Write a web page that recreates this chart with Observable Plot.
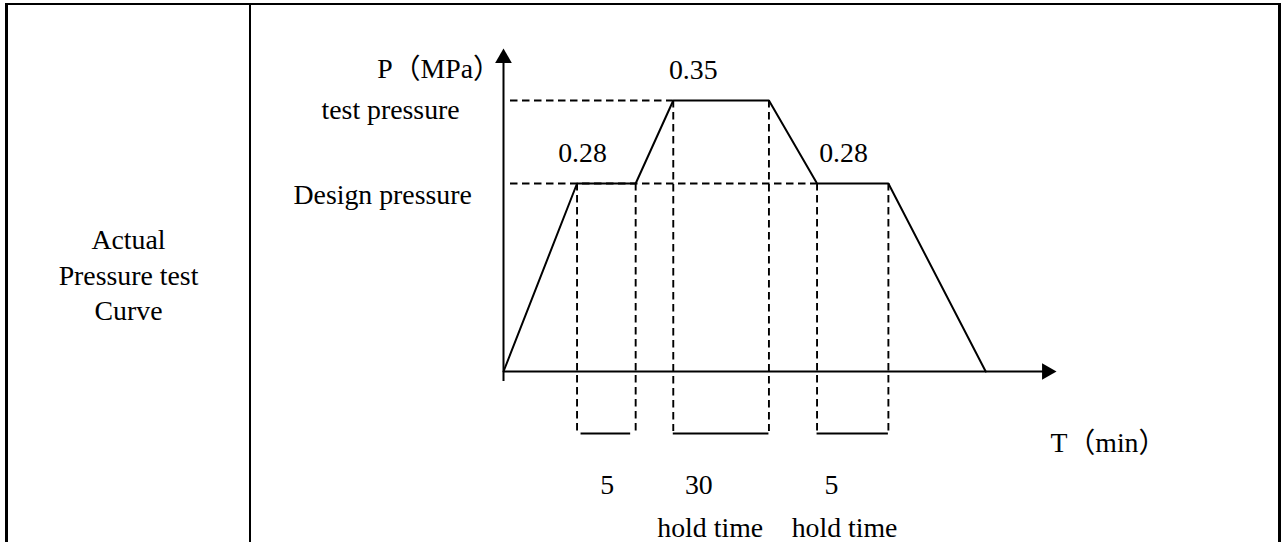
<!DOCTYPE html>
<html>
<head>
<meta charset="utf-8">
<script src="https://cdn.jsdelivr.net/npm/d3@7"></script>
<script src="https://cdn.jsdelivr.net/npm/@observablehq/plot@0.6"></script>
<style>
  html, body { margin: 0; padding: 0; background: #fff; }
  #page { position: relative; width: 1282px; height: 542px; overflow: hidden;
          font-family: "Liberation Serif", "Times New Roman", "Noto Sans CJK SC", serif; color: #000; }
  #chart { position: absolute; left: 0; top: 0; }
  #chart svg { background: transparent !important; overflow: visible; }
  .b { position: absolute; background: #000; }
  #rowTitle { position: absolute; left: 8px; width: 241px; top: 222px; text-align: center;
              font-size: 27.8px; line-height: 35.5px; }
</style>
</head>
<body>
<div id="page">
  <div id="chart"></div>
  <div class="b" style="left:5px;top:3.2px;width:1276px;height:1.6px"></div>
  <div class="b" style="left:5px;top:3px;width:3px;height:539px"></div>
  <div class="b" style="left:249px;top:3px;width:1.6px;height:539px"></div>
  <div class="b" style="left:1277.5px;top:3px;width:3.5px;height:539px"></div>
  <div id="rowTitle"></div>
</div>
<script>
// ---- chart content (schematic time units, pressure in MPa) ----
const rowTitle = ["Actual", "Pressure test", "Curve"];
const axisNameP = "P（MPa）";
const axisNameT = "T（min）";
const levelNames = ["test pressure", "Design pressure"];
const testP = 0.35;
const designP = 0.28;
const curveT = [0, 13.3, 23.9, 30.7, 48.0, 56.7, 69.6, 87.2];
const curveP = [0, 0.28, 0.28, 0.35, 0.35, 0.28, 0.28, 0];
const holdStart = [13.3, 30.7, 56.7];
const holdEnd = [23.9, 48.0, 69.6];
const holdLevel = [0.28, 0.35, 0.28];
const holdMinutes = ["5", "30", "5"];
const holdNote = ["", "hold time", "hold time"];
const levelLabel = ["0.28", "0.35", "0.28"];
const tMax = 100;
// schematic (not to scale) drawing height of each pressure level
const levelValue = [0, designP, testP];
const levelDrawn = [0, 188, 271];

document.getElementById("rowTitle").innerHTML = rowTitle.map(s => `<div>${s}</div>`).join("");

const serif = '"Liberation Serif","Times New Roman","Noto Sans CJK SC",serif';
const dash = "7.5,4.5";
const schematic = d3.scaleLinear().domain(levelValue).range(levelDrawn);

function label(text, t, p, dx, dy, anchor = "middle") {
  return Plot.text([text], {
    x: () => t, y: () => p, text: d => d, dx, dy,
    textAnchor: anchor, lineAnchor: "bottom",
    fontSize: 27.8, fontFamily: serif, fill: "black"
  });
}

const curve = curveT.map((t, i) => ({t, p: curveP[i]}));
const bounds = [];
holdStart.forEach((s, i) => {
  bounds.push({t: s, p: holdLevel[i]});
  bounds.push({t: holdEnd[i], p: holdLevel[i]});
});
const holds = holdStart.map((s, i) => ({s, e: holdEnd[i], m: (s + holdEnd[i]) / 2}));
const guides = [{p: testP, t: curveT[3]}, {p: designP, t: curveT[5]}];

const chart = Plot.plot({
  width: 1282,
  height: 542,
  style: {background: "transparent", overflow: "visible"},
  x: {domain: [0, tMax], range: [503, 1056], axis: null},
  y: {transform: p => schematic(p), domain: [0, levelDrawn[2]], range: [371, 100], axis: null},
  marks: [
    // dashed level guides
    Plot.ruleY(guides, {y: "p", x1: 0, x2: "t", insetLeft: 7, stroke: "black", strokeWidth: 1.9, strokeDasharray: dash}),
    // dashed hold boundaries
    Plot.ruleX(bounds, {x: "t", y1: "p", y2: 0, insetBottom: -60, stroke: "black", strokeWidth: 1.9, strokeDasharray: dash}),
    // hold brackets
    Plot.ruleY(holds.slice(0, 1), {y: () => 0, x1: "s", x2: "e", dy: 62, insetLeft: 4, insetRight: 5, stroke: "black", strokeWidth: 2}),
    Plot.ruleY(holds.slice(1), {y: () => 0, x1: "s", x2: "e", dy: 62, stroke: "black", strokeWidth: 2}),
    // axes
    Plot.ruleX([0], {x: d => d, y1: testP, y2: 0, insetTop: -40, insetBottom: -10, stroke: "black", strokeWidth: 2}),
    Plot.ruleY([0], {y: d => d, x1: 0, x2: tMax, insetRight: 10, stroke: "black", strokeWidth: 2}),
    Plot.dot([{t: 0, p: testP}], {x: "t", y: "p", dy: -42.3, symbol: "triangle", r: 6.2, fill: "black", stroke: "none"}),
    Plot.dot([{t: tMax, p: 0}], {x: "t", y: "p", dx: -9.6, rotate: 90, symbol: "triangle", r: 6.2, fill: "black", stroke: "none"}),
    // pressure curve
    Plot.line(curve, {x: "t", y: "p", stroke: "black", strokeWidth: 2, strokeLinejoin: "miter"}),
    // texts
    label(axisNameP, 0, testP, -126.3, -23, "start"),
    label(levelNames[0], 0, testP, -182, 18, "start"),
    label(levelNames[1], 0, designP, -210, 20, "start"),
    label(levelLabel[0], curveT[1], curveP[1], 5.5, -22),
    label(levelLabel[1], curveT[3], curveP[3], 20, -22),
    label(levelLabel[2], curveT[5], curveP[5], 26.5, -22),
    label(holdMinutes[0], holds[0].m, 0, 0.8, 122),
    label(holdMinutes[1], holds[1].m, 0, -22.3, 122),
    label(holdMinutes[2], holds[2].m, 0, -21.2, 122),
    label(holdNote[1], holds[1].m, 0, -10.9, 165),
    label(holdNote[2], holds[2].m, 0, -8.2, 165),
    label(axisNameT, tMax, 0, -6, 80, "start")
  ]
});
document.getElementById("chart").appendChild(chart);
</script>
</body>
</html>
